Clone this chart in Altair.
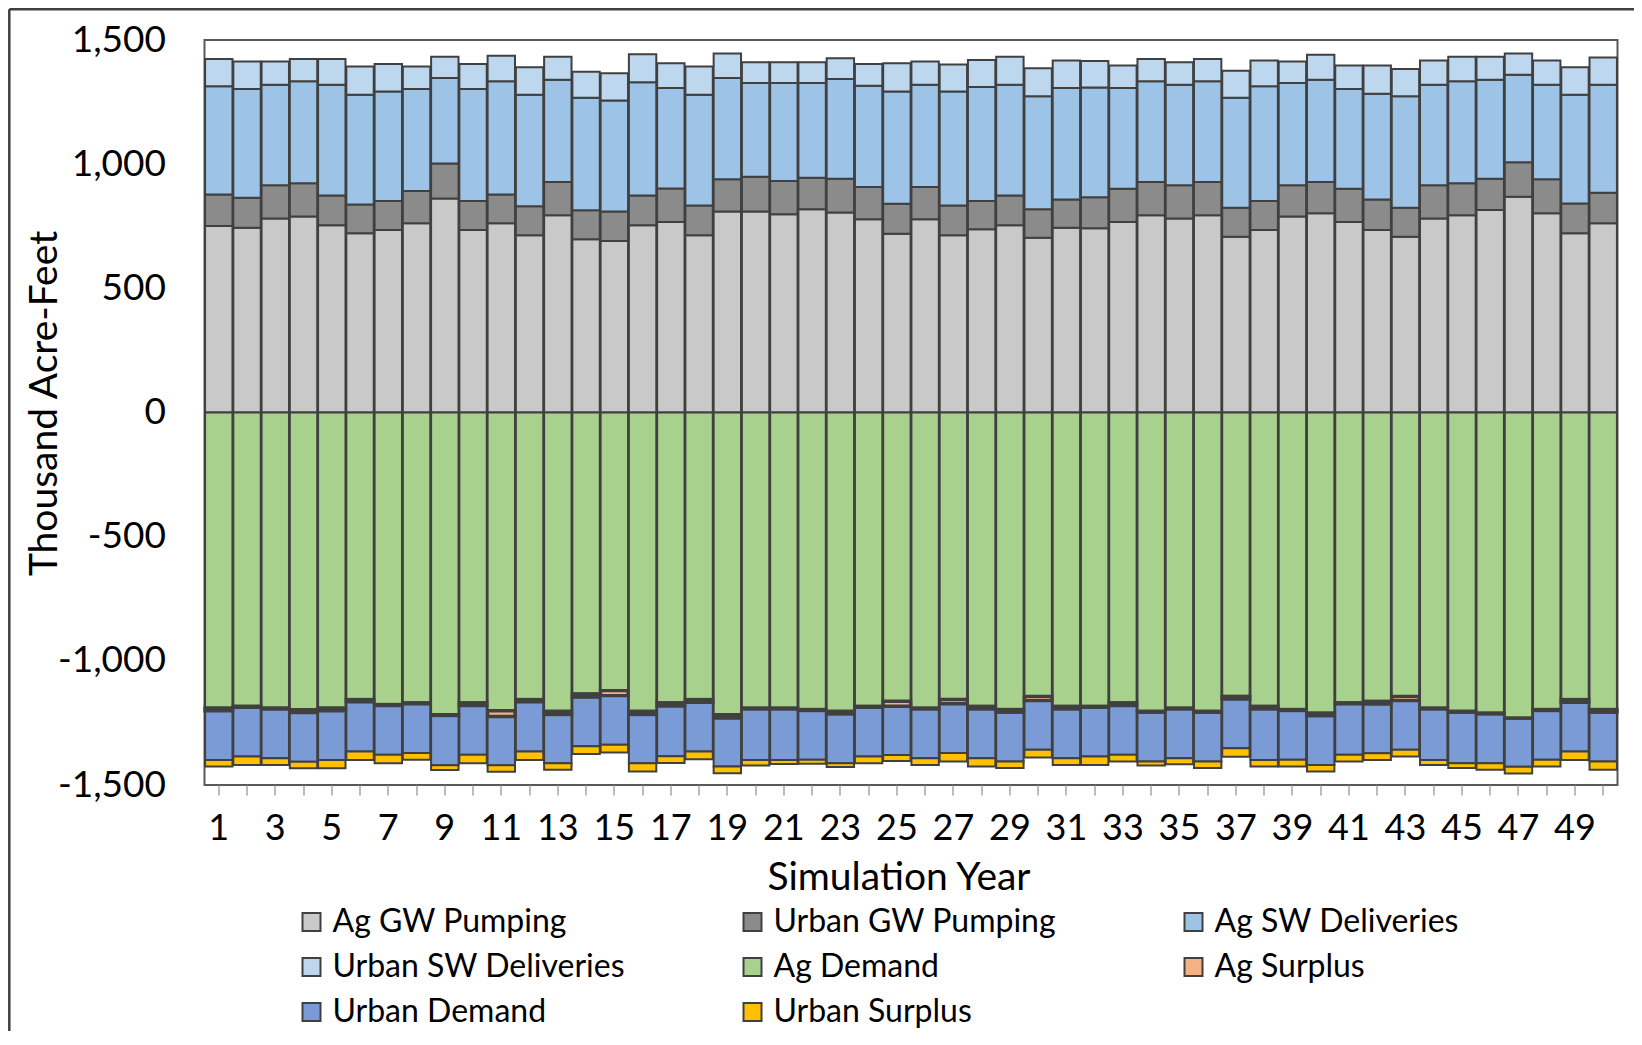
import altair as alt
import pandas as pd

years = list(range(1, 51))

# Positive (supply) series, thousand acre-feet
ag_gw_pumping = [751, 744, 781, 789, 754, 722, 735, 762, 862, 735,
                 762, 714, 794, 698, 691, 754, 767, 714, 809, 809,
                 798, 818, 805, 778, 720, 778, 714, 738, 754, 704,
                 744, 742, 767, 794, 781, 794, 708, 735, 789, 802,
                 767, 735, 708, 781, 794, 815, 869, 802, 722, 762]
urban_gw_pumping = [127, 121, 134, 134, 120, 116, 117, 130, 141, 117,
                    116, 117, 134, 116, 118, 120, 135, 120, 130, 140,
                    134, 127, 136, 130, 121, 130, 120, 114, 120, 114,
                    114, 125, 134, 134, 134, 134, 117, 117, 126, 126,
                    134, 123, 117, 134, 129, 126, 139, 137, 120, 123]
ag_sw_deliveries = [436, 438, 405, 411, 446, 442, 441, 411, 344, 451,
                    456, 449, 412, 453, 447, 456, 405, 446, 408, 378,
                    395, 382, 402, 408, 452, 412, 459, 459, 446, 455,
                    449, 442, 406, 406, 405, 406, 442, 462, 412, 412,
                    402, 426, 448, 405, 411, 399, 352, 381, 438, 435]
urban_sw_deliveries = [109, 110, 93, 89, 103, 113, 110, 90, 86, 100,
                       103, 110, 93, 105, 110, 113, 99, 113, 99, 83,
                       83, 83, 84, 87, 113, 93, 108, 108, 113, 113,
                       110, 106, 90, 89, 90, 89, 109, 103, 86, 101,
                       94, 113, 110, 97, 99, 93, 86, 97, 110, 110]

# Negative (demand) series, thousand acre-feet (plotted below zero)
ag_demand = [1190, 1183, 1190, 1197, 1190, 1156, 1176, 1169, 1217, 1169,
             1201, 1156, 1203, 1133, 1120, 1203, 1169, 1156, 1217, 1190,
             1190, 1196, 1203, 1183, 1163, 1190, 1156, 1183, 1196, 1143,
             1183, 1183, 1169, 1203, 1190, 1203, 1143, 1183, 1196, 1210,
             1169, 1163, 1143, 1190, 1203, 1210, 1230, 1196, 1156, 1196]
ag_surplus = [11, 4, 4, 11, 11, 9, 4, 4, 3, 11,
              23, 9, 13, 13, 20, 13, 13, 11, 13, 4,
              4, 4, 11, 4, 20, 4, 17, 11, 11, 17,
              11, 4, 11, 4, 4, 4, 11, 11, 4, 11,
              4, 11, 17, 4, 4, 4, 1, 4, 11, 11]
urban_demand = [198, 198, 198, 198, 198, 200, 198, 198, 200, 198,
                196, 200, 196, 198, 198, 196, 202, 198, 196, 205,
                205, 198, 198, 198, 196, 198, 198, 198, 198, 198,
                198, 198, 198, 198, 198, 198, 198, 205, 198, 198,
                205, 198, 198, 205, 205, 198, 196, 198, 198, 198]
urban_surplus = [27, 34, 27, 27, 34, 34, 34, 27, 20, 34,
                 27, 34, 27, 31, 31, 34, 27, 31, 27, 22,
                 16, 16, 16, 27, 24, 27, 34, 34, 27, 31,
                 27, 34, 27, 16, 24, 27, 34, 27, 27, 27,
                 27, 27, 27, 20, 20, 27, 27, 27, 34, 34]

series_names = ["Ag GW Pumping", "Urban GW Pumping", "Ag SW Deliveries",
                "Urban SW Deliveries", "Ag Demand", "Ag Surplus",
                "Urban Demand", "Urban Surplus"]
series_colors = ["#c9c9c9", "#8b8b8b", "#9dc3e6", "#bdd7ee",
                 "#a9d18e", "#f4b183", "#7b9bd6", "#ffc000"]
series_signs = [1, 1, 1, 1, -1, -1, -1, -1]
series_values = [ag_gw_pumping, urban_gw_pumping, ag_sw_deliveries,
                 urban_sw_deliveries, ag_demand, ag_surplus,
                 urban_demand, urban_surplus]

rows = []
for k, (name, vals, sgn) in enumerate(zip(series_names, series_values, series_signs)):
    for yr, v in zip(years, vals):
        rows.append({"Year": yr, "Series": name, "Value": sgn * v, "order": k})
df = pd.DataFrame(rows)

FONT = "Lato"
EDGE = "#404040"

base = alt.Chart(df).transform_stack(
    stack="Value",
    groupby=["Year"],
    as_=["v0", "v1"],
    sort=[alt.SortField("order", order="ascending")],
)

x_enc = alt.X(
    "Year:O",
    scale=alt.Scale(paddingInner=0.03, paddingOuter=0.02),
    axis=alt.Axis(
        title="Simulation Year",
        labelExpr="datum.value % 2 == 1 ? datum.label : ''",
        labelAngle=0,
        labelOverlap=False,
        labelFontSize=36,
        labelPadding=16,
        labelColor="#000000",
        tickSize=10,
        tickColor="#a6a6a6",
        tickWidth=1.5,
        domain=False,
        grid=False,
        titleFontSize=39,
        titleFontWeight="normal",
        titleColor="#000000",
        titleX=694,
        titleY=92,
        titleBaseline="middle",
        titleAlign="center",
    ),
)
y_enc = alt.Y(
    "v0:Q",
    scale=alt.Scale(domain=[-1500, 1500], nice=False),
    axis=alt.Axis(
        title="Thousand Acre-Feet",
        values=[-1500, -1000, -500, 0, 500, 1000, 1500],
        labelExpr="(datum.value < 0 ? '-' : '') + format(abs(datum.value), ',')",
        labelFontSize=37,
        labelPadding=39,
        labelColor="#000000",
        ticks=False,
        tickSize=0,
        domain=False,
        grid=False,
        titleFontSize=39,
        titleFontWeight="normal",
        titleColor="#000000",
        titleAngle=270,
        titleX=-160,
        titleY=363,
        titleBaseline="middle",
        titleAlign="center",
    ),
)
color_enc = alt.Color(
    "Series:N",
    scale=alt.Scale(domain=series_names, range=series_colors),
    legend=alt.Legend(
        title=None,
        orient="none",
        direction="horizontal",
        legendX=91,
        legendY=866,
        columns=3,
        gridAlign="all",
        columnPadding=111,
        rowPadding=13,
        padding=0,
        labelFont=FONT,
        labelFontSize=32,
        labelColor="#000000",
        labelOffset=5,
        labelLimit=400,
        symbolType="square",
        symbolSize=324,
        symbolStrokeWidth=2,
        symbolStrokeColor=EDGE,
        symbolOpacity=1,
    ),
)

bars = base.transform_filter(alt.datum.Series != "Ag Surplus").mark_bar(
    stroke=EDGE, strokeWidth=2
).encode(x=x_enc, y=y_enc, y2=alt.Y2("v1:Q"), color=color_enc)

surplus = base.transform_filter(alt.datum.Series == "Ag Surplus").mark_bar(
    stroke=EDGE, strokeWidth=3.4
).encode(x=x_enc, y=y_enc, y2=alt.Y2("v1:Q"), color=color_enc)

frame_df = pd.DataFrame({"k": [0]})
frame_left = alt.Chart(frame_df).mark_rule(color=EDGE, strokeWidth=2.5).encode(
    x=alt.value(-195.2), y=alt.value(-30.8), y2=alt.value(1200)
)
frame_top = alt.Chart(frame_df).mark_rule(color=EDGE, strokeWidth=2.5).encode(
    x=alt.value(-195.2), x2=alt.value(1600), y=alt.value(-30.8)
)

chart = alt.layer(bars, surplus, frame_left, frame_top).properties(
    width=1413,
    height=745,
    padding={"left": 196.5, "top": 32, "right": 16.5, "bottom": 246},
    autosize=alt.AutoSizeParams(type="none"),
    background="#ffffff",
).configure_view(
    stroke="#595959", strokeWidth=2
).configure_axis(
    labelFont=FONT, titleFont=FONT
)

chart.save("out.html", embed_options={"renderer": "svg", "actions": False})
